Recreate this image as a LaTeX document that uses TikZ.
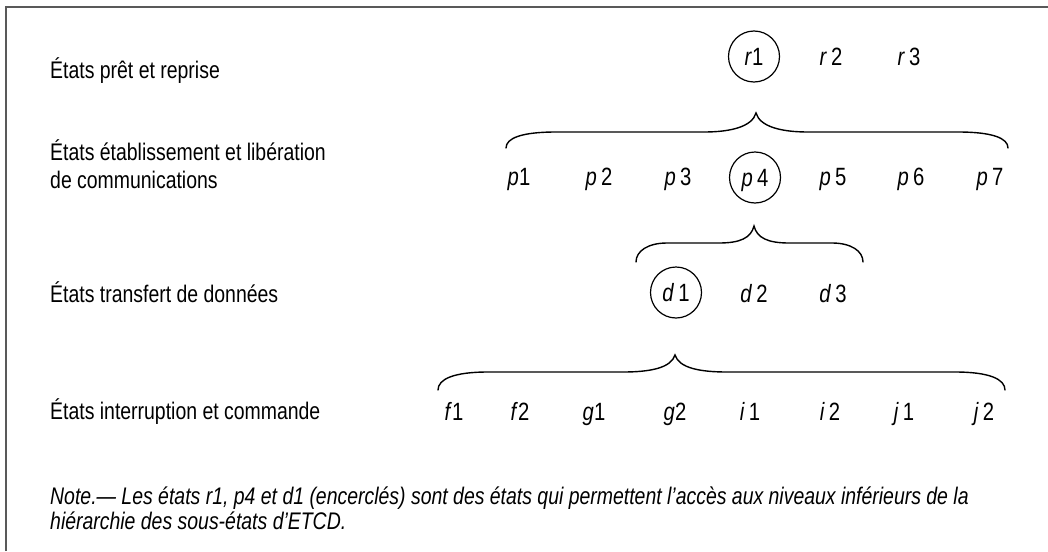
\documentclass[tikz,border=0pt]{standalone}
\usepackage{fontspec}
\setmainfont[FakeStretch=0.81]{Liberation Sans}
\newcommand\stl[2]{\textit{#1}#2}
\begin{document}
\begin{tikzpicture}[x=1pt,y=-1pt,
  lbl/.style={anchor=base west, font=\fontsize{24}{28}\selectfont, align=left, inner sep=0pt},
  notestyle/.style={anchor=base west, font=\fontsize{24}{25}\selectfont\itshape, align=left, inner sep=0pt},
  st/.style={circle, inner sep=0pt, minimum size=51pt, text height=17pt, text depth=0pt, font=\fontsize{25}{28}\selectfont},
  circ/.style={draw, line width=1.2pt},
  brace/.style={line width=1.4pt, line cap=round},
  frame/.style={line width=1.6pt, draw=black!65}]
\useasboundingbox (0,0) rectangle (1048,551);
\draw[frame] (6,551) -- (6,7) -- (1048,7);

% left labels
\node[lbl] (Lr) at (50,78) {États prêt et reprise};
\node[lbl] (Lp) at (50,188) {États établissement et libération\\de communications};
\node[lbl] (Ld) at (50,302) {États transfert de données};
\node[lbl] (Lf) at (50,419) {États interruption et commande};

% r row
\node[st,circ] (r1) at (754,56.5) {\stl{r}{1}};
\node[st] (r2) at (831,56.5) {\stl{r}{\,2}};
\node[st] (r3) at (909,56.5) {\stl{r}{\,3}};

% p row
\node[st] (p1) at (519,176.5) {\stl{p}{1}};
\node[st] (p2) at (599,176.5) {\stl{p}{\,2}};
\node[st] (p3) at (678,176.5) {\stl{p}{\,3}};
\node[st,circ] (p4) at (755,177.5) {\stl{p}{\,4}};
\node[st] (p5) at (833,176.5) {\stl{p}{\,5}};
\node[st] (p6) at (911,176.5) {\stl{p}{\,6}};
\node[st] (p7) at (990,176.5) {\stl{p}{\,7}};

% d row
\node[st,circ] (d1) at (676,292.5) {\stl{d}{\,1}};
\node[st] (d2) at (754,293.5) {\stl{d}{\,2}};
\node[st] (d3) at (833,293.5) {\stl{d}{\,3}};

% f row
\node[st] (f1) at (454,411.5) {\stl{f}{1}};
\node[st] (f2) at (520,411.5) {\stl{f}{2}};
\node[st] (g1) at (594,411.5) {\stl{g}{1}};
\node[st] (g2) at (675,411.5) {\stl{g}{2}};
\node[st] (i1) at (750,411.5) {\stl{i}{\,1}};
\node[st] (i2) at (830,411.5) {\stl{i}{\,2}};
\node[st] (j1) at (904,411.5) {\stl{j}{\,1}};
\node[st] (j2) at (984,411.5) {\stl{j}{\,2}};

% braces
\draw[brace] (506,148) .. controls (506,138) and (522,132) .. (556,132) -- (704,132)
  .. controls (730,132) and (752,127) .. (756,113)
  .. controls (760,127) and (782,132) .. (808,132) -- (958,132)
  .. controls (992,132) and (1008,138) .. (1008,148);
\draw[brace] (636,262) .. controls (636,251) and (648,243) .. (667,243) -- (719,243)
  .. controls (740,243) and (751,238) .. (754,226)
  .. controls (757,238) and (768,243) .. (789,243) -- (832,243)
  .. controls (851,243) and (863,251) .. (863,262);
\draw[brace] (438,390) .. controls (438,379) and (454,372) .. (488,372) -- (623,372)
  .. controls (650,372) and (671,368) .. (675,355)
  .. controls (679,368) and (700,372) .. (727,372) -- (955,372)
  .. controls (989,372) and (1005,379) .. (1005,390);

% note
\node[notestyle] (note) at (50,529) {Note.— Les états r1, p4 et d1 (encerclés) sont des états qui permettent l’accès aux niveaux inférieurs de la\\hiérarchie des sous-états d’ETCD.};
\end{tikzpicture}
\end{document}
